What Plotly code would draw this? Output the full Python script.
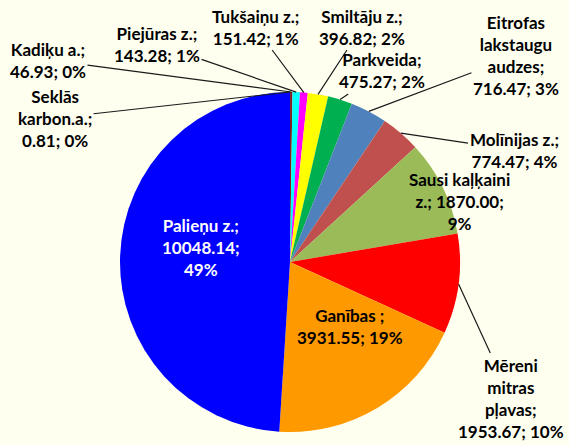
import math
import plotly.graph_objects as go

names = ["Seklās<br>karbon.a.", "Kadiķu a.", "Piejūras z.", "Tukšaiņu z.", "Smiltāju z.",
         "Parkveida", "Eitrofas<br>lakstaugu<br>audzes", "Molīnijas z.", "Sausi kaļķaini<br>z.",
         "Mēreni<br>mitras<br>pļavas", "Ganības ", "Palieņu z."]
values = [0.81, 46.93, 143.28, 151.42, 396.82, 475.27, 716.47, 774.47, 1870.00, 1953.67, 3931.55, 10048.14]
colors = ["#1F497D", "#7F1F1F", "#00FFFF", "#FF00FF", "#FFFF00", "#00B050", "#4F81BD",
          "#C0504D", "#9BBB59", "#FF0000", "#FF9900", "#0000FF"]
# label centres in pixels and whether a leader line is drawn
label_pos = [(55, 118), (48, 60), (157, 44), (255, 27), (362, 27), (382, 71), (516, 56),
             (514, 150), (512, 202), (511, 398), (350, 350), (160, 248)]
leader = [True, True, True, True, True, True, True, True, False, True, False, False]
text_colors = ["black"] * 11 + ["white"]

W, H = 569, 445
cx, cy, R = 290, 262, 170
total = sum(values)

fig = go.Figure(go.Pie(
    labels=[n.replace("<br>", " ") for n in names],
    values=values,
    sort=False,
    direction="clockwise",
    rotation=0,
    marker=dict(colors=colors, line=dict(width=0)),
    textinfo="none",
    hoverinfo="label+value+percent",
    showlegend=False,
    domain=dict(x=[(cx - R) / W, (cx + R) / W], y=[(H - cy - R) / H, (H - cy + R) / H]),
    automargin=False,
))

cum = 0.0
for i, v in enumerate(values):
    mid = (cum + v / 2) / total * 2 * math.pi
    cum += v
    pct = f"{v / total:.0%}"
    if i == 11:
        txt = f"{names[i]};<br>{v:.2f};<br>{pct}"
    elif i == 8:
        txt = f"{names[i]}; {v:.2f};<br>{pct}"
    else:
        txt = f"{names[i]};<br>{v:.2f}; {pct}"
    lx, ly = label_pos[i]
    font = dict(family="Lato", size=17, color=text_colors[i], weight="bold")
    if leader[i]:
        tx = cx + R * math.sin(mid)
        ty = cy - R * math.cos(mid)
        fig.add_annotation(
            x=tx / W, y=1 - ty / H, xref="paper", yref="paper",
            ax=lx - tx, ay=ly - ty, axref="pixel", ayref="pixel",
            text=txt, showarrow=True, arrowhead=0, arrowwidth=1.2,
            arrowcolor="#1a1a1a", standoff=0, font=font, align="center",
        )
    else:
        fig.add_annotation(
            x=lx / W, y=1 - ly / H, xref="paper", yref="paper",
            text=txt, showarrow=False, font=font, align="center",
        )

fig.update_layout(
    width=W, height=H,
    paper_bgcolor="#FFFFF0",
    plot_bgcolor="#FFFFF0",
    margin=dict(l=0, r=0, t=0, b=0),
)
fig.write_html("out.html")
